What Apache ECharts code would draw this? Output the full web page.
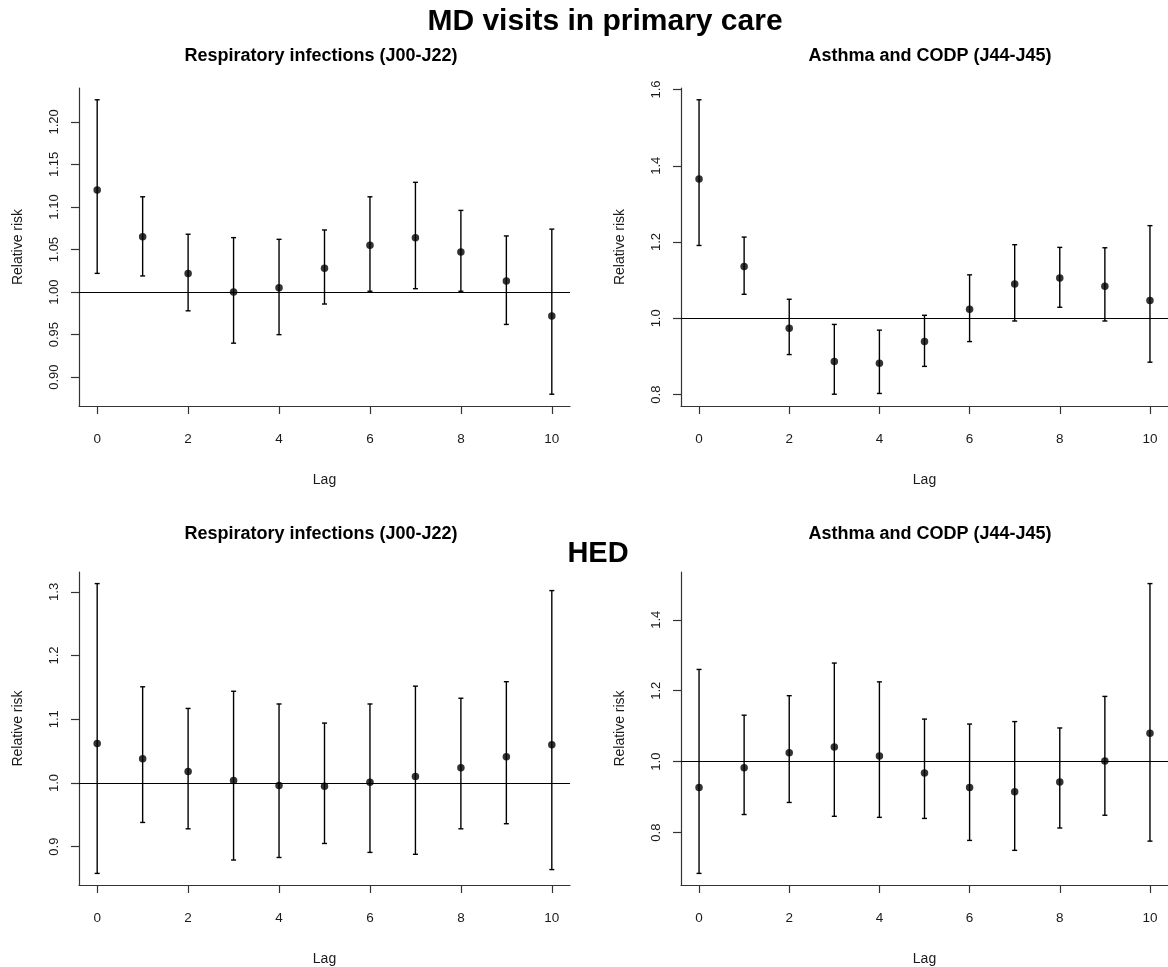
<!DOCTYPE html>
<html>
<head>
<meta charset="utf-8">
<script src="https://cdn.jsdelivr.net/npm/echarts@6/dist/echarts.min.js"></script>
<style>
html,body{margin:0;padding:0;background:#fff;}
#chart{width:1168px;height:967px;}
</style>
</head>
<body>
<div id="chart"></div>
<script>
// ---------- data ----------
const lags = [0, 1, 2, 3, 4, 5, 6, 7, 8, 9, 10];
const xTicks = [0, 2, 4, 6, 8, 10];

// MD visits in primary care — Respiratory infections (J00-J22)
const respMdRR = [1.120, 1.065, 1.022, 1.000, 1.005, 1.028, 1.055, 1.064, 1.047, 1.013, 0.972];
const respMdLo = [1.022, 1.019, 0.978, 0.940, 0.950, 0.986, 1.001, 1.004, 1.001, 0.962, 0.880];
const respMdHi = [1.226, 1.112, 1.068, 1.064, 1.062, 1.073, 1.112, 1.129, 1.096, 1.066, 1.074];
const respMdTicks = [0.90, 0.95, 1.00, 1.05, 1.10, 1.15, 1.20];

// MD visits in primary care — Asthma and CODP (J44-J45)
const asthMdRR = [1.365, 1.136, 0.974, 0.887, 0.882, 0.939, 1.024, 1.090, 1.106, 1.084, 1.047];
const asthMdLo = [1.191, 1.063, 0.905, 0.801, 0.803, 0.874, 0.939, 0.993, 1.029, 0.993, 0.885];
const asthMdHi = [1.573, 1.213, 1.050, 0.984, 0.969, 1.008, 1.114, 1.193, 1.186, 1.185, 1.243];
const asthMdTicks = [0.8, 1.0, 1.2, 1.4, 1.6];

// HED — Respiratory infections (J00-J22)
const respHedRR = [1.062, 1.038, 1.018, 1.004, 0.996, 0.995, 1.001, 1.010, 1.024, 1.041, 1.060];
const respHedLo = [0.858, 0.938, 0.928, 0.879, 0.883, 0.905, 0.891, 0.888, 0.928, 0.936, 0.864];
const respHedHi = [1.313, 1.151, 1.117, 1.144, 1.124, 1.094, 1.124, 1.152, 1.133, 1.159, 1.302];
const respHedTicks = [0.9, 1.0, 1.1, 1.2, 1.3];

// HED — Asthma and CODP (J44-J45)
const asthHedRR = [0.927, 0.983, 1.025, 1.041, 1.016, 0.968, 0.927, 0.915, 0.943, 1.002, 1.080];
const asthHedLo = [0.685, 0.851, 0.885, 0.846, 0.843, 0.840, 0.778, 0.750, 0.813, 0.849, 0.776];
const asthHedHi = [1.260, 1.131, 1.186, 1.278, 1.225, 1.120, 1.106, 1.113, 1.095, 1.184, 1.502];
const asthHedTicks = [0.8, 1.0, 1.2, 1.4];

const mainTitle = 'MD visits in primary care';
const secondTitle = 'HED';
const respTitle = 'Respiratory infections (J00-J22)';
const asthTitle = 'Asthma and CODP (J44-J45)';
const yName = 'Relative risk';
const xName = 'Lag';
const refValue = 1.0;

// ---------- chart ----------
const FONT = 'Arial, "Liberation Sans", Helvetica, sans-serif';
const TXT = '#1a1a1a';
const AX = '#333';

const panels = [
  {rr: respMdRR, lo: respMdLo, hi: respMdHi, ticks: respMdTicks, dec: 2,
   grid: {left: 79, top: 88, width: 491, height: 318}, title: respTitle, tx: 321, ty: 56},
  {rr: asthMdRR, lo: asthMdLo, hi: asthMdHi, ticks: asthMdTicks, dec: 1,
   grid: {left: 681, top: 88, width: 490, height: 318}, title: asthTitle, tx: 930, ty: 56},
  {rr: respHedRR, lo: respHedLo, hi: respHedHi, ticks: respHedTicks, dec: 1,
   grid: {left: 79, top: 572, width: 491, height: 318}, title: respTitle, tx: 321, ty: 534},
  {rr: asthHedRR, lo: asthHedLo, hi: asthHedHi, ticks: asthHedTicks, dec: 1,
   grid: {left: 681, top: 572, width: 490, height: 318}, title: asthTitle, tx: 930, ty: 534}
];

const grids = [], xAxes = [], yAxes = [], series = [];
const graphics = [
  {type: 'text', x: 605, y: 22, style: {text: mainTitle, font: 'bold 30px ' + FONT, fill: '#000', textAlign: 'center', textVerticalAlign: 'middle'}},
  {type: 'text', x: 598, y: 554, style: {text: secondTitle, font: 'bold 29px ' + FONT, fill: '#000', textAlign: 'center', textVerticalAlign: 'middle'}}
];

panels.forEach((p, i) => {
  grids.push(Object.assign({containLabel: false}, p.grid));
  // R style: data range extended by 4% on each side
  const xmin = Math.min(...lags), xmax = Math.max(...lags);
  const xr = xmax - xmin;
  const ymin = Math.min(...p.lo), ymax = Math.max(...p.hi);
  const yr = ymax - ymin;
  xAxes.push({
    type: 'value', gridIndex: i, min: xmin - 0.04 * xr, max: xmax + 0.04 * xr,
    name: xName, nameLocation: 'middle', nameGap: 67,
    nameTextStyle: {fontFamily: FONT, fontSize: 14, color: TXT},
    axisLine: {show: true, onZero: false, lineStyle: {color: AX, width: 1.2}},
    axisTick: {show: true, length: 8, customValues: xTicks, lineStyle: {color: AX, width: 1.2}},
    axisLabel: {customValues: xTicks, margin: 26, fontFamily: FONT, fontSize: 13.5, color: TXT, formatter: v => String(v)},
    splitLine: {show: false}
  });
  yAxes.push({
    type: 'value', gridIndex: i, min: ymin - 0.04 * yr, max: ymax + 0.04 * yr,
    name: yName, nameLocation: 'middle', nameGap: 54, nameRotate: 90,
    nameTextStyle: {fontFamily: FONT, fontSize: 14, color: TXT},
    axisLine: {show: true, onZero: false, lineStyle: {color: AX, width: 1.2}},
    axisTick: {show: true, length: 8, customValues: p.ticks, lineStyle: {color: AX, width: 1.2}},
    axisLabel: {customValues: p.ticks, rotate: 90, margin: 18, fontFamily: FONT, fontSize: 13, color: TXT,
                formatter: v => Number(v).toFixed(p.dec)},
    splitLine: {show: false}
  });
  const ciData = lags.map((l, k) => [l, p.lo[k], p.hi[k]]);
  series.push({
    type: 'custom', xAxisIndex: i, yAxisIndex: i, data: ciData,
    encode: {x: 0, y: [1, 2]}, silent: true, z: 2,
    renderItem: (params, api) => {
      const x = api.value(0);
      const a = api.coord([x, api.value(1)]);
      const b = api.coord([x, api.value(2)]);
      const cw = 2.5;
      const st = {stroke: '#000', lineWidth: 1.4};
      return {type: 'group', children: [
        {type: 'line', shape: {x1: a[0], y1: a[1], x2: b[0], y2: b[1]}, style: st},
        {type: 'line', shape: {x1: a[0] - cw, y1: a[1], x2: a[0] + cw, y2: a[1]}, style: st},
        {type: 'line', shape: {x1: b[0] - cw, y1: b[1], x2: b[0] + cw, y2: b[1]}, style: st}
      ]};
    },
    markLine: {
      silent: true, symbol: ['none', 'none'], label: {show: false},
      lineStyle: {color: '#000', width: 1.2, type: 'solid'},
      data: [{yAxis: refValue}]
    }
  });
  series.push({
    type: 'scatter', xAxisIndex: i, yAxisIndex: i, z: 3,
    data: lags.map((l, k) => [l, p.rr[k]]),
    symbol: 'circle', symbolSize: 7.5, itemStyle: {color: '#000'}, silent: true
  });
  graphics.push({type: 'text', x: p.tx, y: p.ty,
    style: {text: p.title, font: 'bold 18px ' + FONT, fill: '#000', textAlign: 'center', textVerticalAlign: 'middle'}});
});

const chart = echarts.init(document.getElementById('chart'), null, {renderer: 'canvas'});
chart.setOption({
  backgroundColor: '#fff',
  animation: false,
  grid: grids,
  xAxis: xAxes,
  yAxis: yAxes,
  series: series,
  graphic: graphics
});
</script>
</body>
</html>
